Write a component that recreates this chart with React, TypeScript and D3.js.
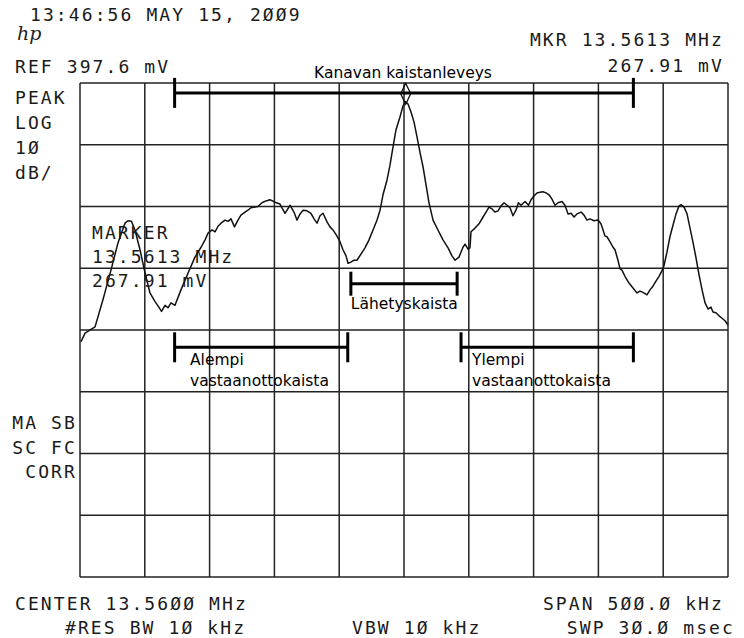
import React from 'react';
import * as d3 from 'd3';

// Analyzer screen: span 500 kHz around 13.56 MHz, 10 dB/div below REF
const freqDomain = [-250, 250]; // kHz offset from center
const levelDomain = [-80, 0]; // dB relative to REF 397.6 mV
const freqTicks = d3.range(-250, 251, 50);
const levelTicks = d3.range(-80, 1, 10);

// trace: [kHz offset, dB re REF]
const trace: [number, number][] = [
  [-249.2, -41.9], [-246.1, -40.5], [-238.4, -39.5], [-232.3, -35.1], [-226.1, -30.3],
  [-220.7, -25.9], [-215.3, -22.7], [-213.0, -22.3], [-210.3, -22.4], [-207.6, -23.8],
  [-203.7, -27.0], [-199.8, -30.8], [-196.0, -34.0], [-192.1, -35.4], [-189.8, -36.1],
  [-187.1, -37.0], [-184.4, -36.0], [-182.1, -36.4], [-179.8, -35.6], [-176.7, -36.0],
  [-172.1, -33.5], [-166.7, -30.8], [-161.3, -28.2], [-156.6, -26.6], [-153.5, -25.4],
  [-151.2, -24.3], [-148.1, -23.8], [-145.8, -24.1], [-143.5, -23.2], [-141.2, -22.7],
  [-138.1, -22.2], [-135.8, -22.4], [-133.5, -22.0], [-130.8, -23.3], [-128.1, -22.2],
  [-125.8, -21.4], [-122.7, -20.9], [-120.4, -20.6], [-118.1, -20.2], [-115.0, -20.1],
  [-112.7, -20.0], [-109.6, -19.4], [-106.5, -19.1], [-103.4, -18.9], [-99.5, -19.3],
  [-95.7, -19.6], [-91.8, -21.1], [-87.9, -19.8], [-84.9, -20.9], [-82.6, -22.2],
  [-80.2, -21.2], [-77.9, -20.6], [-74.8, -20.7], [-71.8, -21.1], [-69.4, -22.0],
  [-67.1, -22.7], [-64.8, -21.5], [-62.5, -21.1], [-59.4, -22.5], [-57.1, -23.3],
  [-54.8, -23.8], [-51.7, -24.8], [-49.4, -25.7], [-47.1, -27.0], [-44.7, -28.0],
  [-43.2, -29.2], [-40.9, -29.0], [-38.6, -28.7], [-36.3, -28.7], [-33.2, -27.7],
  [-30.1, -26.7], [-27.0, -25.4], [-23.9, -23.8], [-20.8, -22.2], [-18.5, -20.6],
  [-16.2, -18.1], [-13.1, -15.7], [-10.8, -13.3], [-8.5, -10.4], [-6.2, -7.6],
  [-3.1, -5.5], [-0.8, -3.7], [1.2, -3.0], [3.1, -3.4], [5.4, -4.7],
  [7.7, -6.3], [10.0, -8.7], [12.3, -11.2], [14.7, -13.6], [17.0, -16.5],
  [19.3, -19.4], [22.4, -22.2], [26.2, -23.8], [30.1, -25.4], [34.0, -26.7],
  [37.0, -28.0], [39.4, -28.7], [42.4, -28.2], [45.5, -26.6], [47.1, -26.1],
  [49.4, -26.9], [50.9, -26.7], [51.7, -24.1], [54.8, -23.5], [57.9, -22.8],
  [61.0, -21.7], [63.3, -20.9], [65.6, -20.1], [67.9, -20.4], [70.2, -20.9],
  [72.6, -20.7], [74.9, -19.9], [77.2, -19.4], [79.5, -19.8], [81.8, -20.2],
  [84.1, -21.5], [86.4, -20.6], [88.3, -19.4], [90.3, -19.8], [93.4, -19.2],
  [96.1, -19.8], [98.0, -18.9], [100.3, -18.3], [102.6, -17.8], [104.9, -17.7],
  [107.2, -17.6], [109.6, -17.8], [111.9, -18.1], [114.2, -18.8], [116.5, -19.8],
  [118.8, -19.4], [121.9, -19.2], [124.2, -19.8], [126.6, -21.2], [128.9, -21.1],
  [131.2, -21.7], [133.5, -21.2], [136.6, -20.9], [138.9, -21.4], [141.2, -22.2],
  [143.5, -22.0], [146.6, -22.3], [149.7, -22.2], [152.0, -22.8], [155.1, -24.8],
  [156.6, -24.9], [158.9, -25.7], [161.3, -26.6], [162.8, -27.0], [165.1, -28.7],
  [166.7, -30.1], [168.2, -30.3], [170.5, -31.3], [173.6, -32.4], [176.7, -33.2],
  [179.8, -34.0], [182.1, -33.7], [184.4, -33.9], [187.5, -34.3], [189.8, -33.5],
  [192.1, -32.9], [194.4, -32.1], [196.8, -31.3], [199.1, -30.4], [200.6, -29.6],
  [202.9, -27.4], [205.2, -24.9], [207.6, -23.0], [209.9, -21.2], [212.2, -19.9],
  [213.8, -19.7], [216.1, -20.1], [218.4, -21.2], [220.7, -23.5], [223.0, -25.8],
  [225.3, -28.3], [227.7, -31.1], [230.0, -33.5], [232.3, -35.6], [234.6, -36.6],
  [236.9, -36.3], [238.4, -37.1], [240.7, -37.2], [243.1, -37.7], [245.4, -38.1],
  [247.7, -38.5], [250.0, -39.2],
];

// marker (13.5613 MHz, 267.91 mV)
const markerKHz = 1.3;
const markerDb = 20 * Math.log10(267.91 / 397.6);

// band annotations: from/to kHz, level dB, tick half height px
const bands = [
  { name: 'channel', from: -177, to: 177, level: -1.6, tick: 15 },
  { name: 'tx', from: -41, to: 41, level: -32.5, tick: 12 },
  { name: 'lower', from: -177, to: -43.4, level: -42.8, tick: 15 },
  { name: 'upper', from: 44, to: 177, level: -42.8, tick: 15 },
];

const sideLabels = ['PEAK', 'LOG', '1Ø', 'dB/'];
const statusLabels = ['MA SB', 'SC FC', 'CORR'];
const markerLines = ['MARKER', '13.5613 MHz', '267.91 mV'];

const mono = { fontFamily: '"DejaVu Sans Mono", monospace', fontSize: 18, letterSpacing: 2.1, fill: '#1a1a1a' };
const sans = { fontFamily: '"DejaVu Sans", sans-serif', fontSize: 15.5, fill: '#000' };

export default function App() {
  const width = 744;
  const height = 638;
  const x = d3.scaleLinear().domain(freqDomain).range([80, 728]);
  const y = d3.scaleLinear().domain(levelDomain).range([577, 83]);

  const line = d3.line<[number, number]>()
    .x(d => x(d[0]))
    .y(d => y(d[1]));

  const mx = x(markerKHz);
  const my = y(markerDb);

  return (
    <svg width={width} height={height} style={{ position: 'absolute', left: 0, top: 0, display: 'block', background: '#fff' }}>
      {/* grid */}
      <g stroke="#222" strokeWidth={1.5}>
        {freqTicks.map(f => (
          <line key={'v' + f} x1={x(f)} x2={x(f)} y1={y(levelDomain[0])} y2={y(levelDomain[1])} />
        ))}
        {levelTicks.map(l => (
          <line key={'h' + l} x1={x(freqDomain[0])} x2={x(freqDomain[1])} y1={y(l)} y2={y(l)} />
        ))}
      </g>

      {/* trace */}
      <path d={line(trace) || ''} fill="none" stroke="#111" strokeWidth={1.5} strokeLinejoin="round" />

      {/* marker diamond */}
      <path
        d={`M${mx},${my} L${mx + 5},${my - 10.5} L${mx},${my - 21} L${mx - 5},${my - 10.5} Z`}
        fill="none" stroke="#111" strokeWidth={1.3}
      />

      {/* band bars */}
      <g stroke="#000" strokeWidth={3}>
        {bands.map(b => (
          <g key={b.name}>
            <line x1={x(b.from)} x2={x(b.to)} y1={y(b.level)} y2={y(b.level)} />
            <line x1={x(b.from)} x2={x(b.from)} y1={y(b.level) - b.tick} y2={y(b.level) + b.tick} />
            <line x1={x(b.to)} x2={x(b.to)} y1={y(b.level) - b.tick} y2={y(b.level) + b.tick} />
          </g>
        ))}
      </g>

      {/* annotations */}
      <text {...sans} x={x(0) - 1} y={78} textAnchor="middle">Kanavan kaistanleveys</text>
      <text {...sans} x={x(-41)} y={309}>Lähetyskaista</text>
      <text {...sans} x={190} y={365}>Alempi</text>
      <text {...sans} x={190} y={386}>vastaanottokaista</text>
      <text {...sans} x={472} y={365}>Ylempi</text>
      <text {...sans} x={472} y={386}>vastaanottokaista</text>

      {/* instrument text */}
      <text {...mono} x={30} y={21}>13:46:56 MAY 15, 2ØØ9</text>
      <text x={17} y={40} fontFamily="'DejaVu Serif', serif" fontStyle="italic" fontSize={19} fill="#222">hp</text>
      <text {...mono} x={15} y={73}>REF 397.6 mV</text>
      <text {...mono} x={724} y={46} textAnchor="end">MKR 13.5613 MHz</text>
      <text {...mono} x={724} y={72} textAnchor="end">267.91 mV</text>
      {sideLabels.map((s, i) => (
        <text key={s} {...mono} x={15} y={104 + i * 25}>{s}</text>
      ))}
      {markerLines.map((s, i) => (
        <text key={s} {...mono} x={92} y={239 + i * 24}>{s}</text>
      ))}
      {statusLabels.map((s, i) => (
        <text key={s} {...mono} x={77} y={429 + i * 24.5} textAnchor="end">{s}</text>
      ))}
      <text {...mono} x={15} y={610}>CENTER 13.56ØØ MHz</text>
      <text {...mono} x={724} y={610} textAnchor="end">SPAN 5ØØ.Ø kHz</text>
      <text {...mono} x={65} y={634}>#RES BW 1Ø kHz</text>
      <text {...mono} x={352} y={634}>VBW 1Ø kHz</text>
      <text {...mono} x={735} y={634} textAnchor="end">SWP 3Ø.Ø msec</text>
    </svg>
  );
}
